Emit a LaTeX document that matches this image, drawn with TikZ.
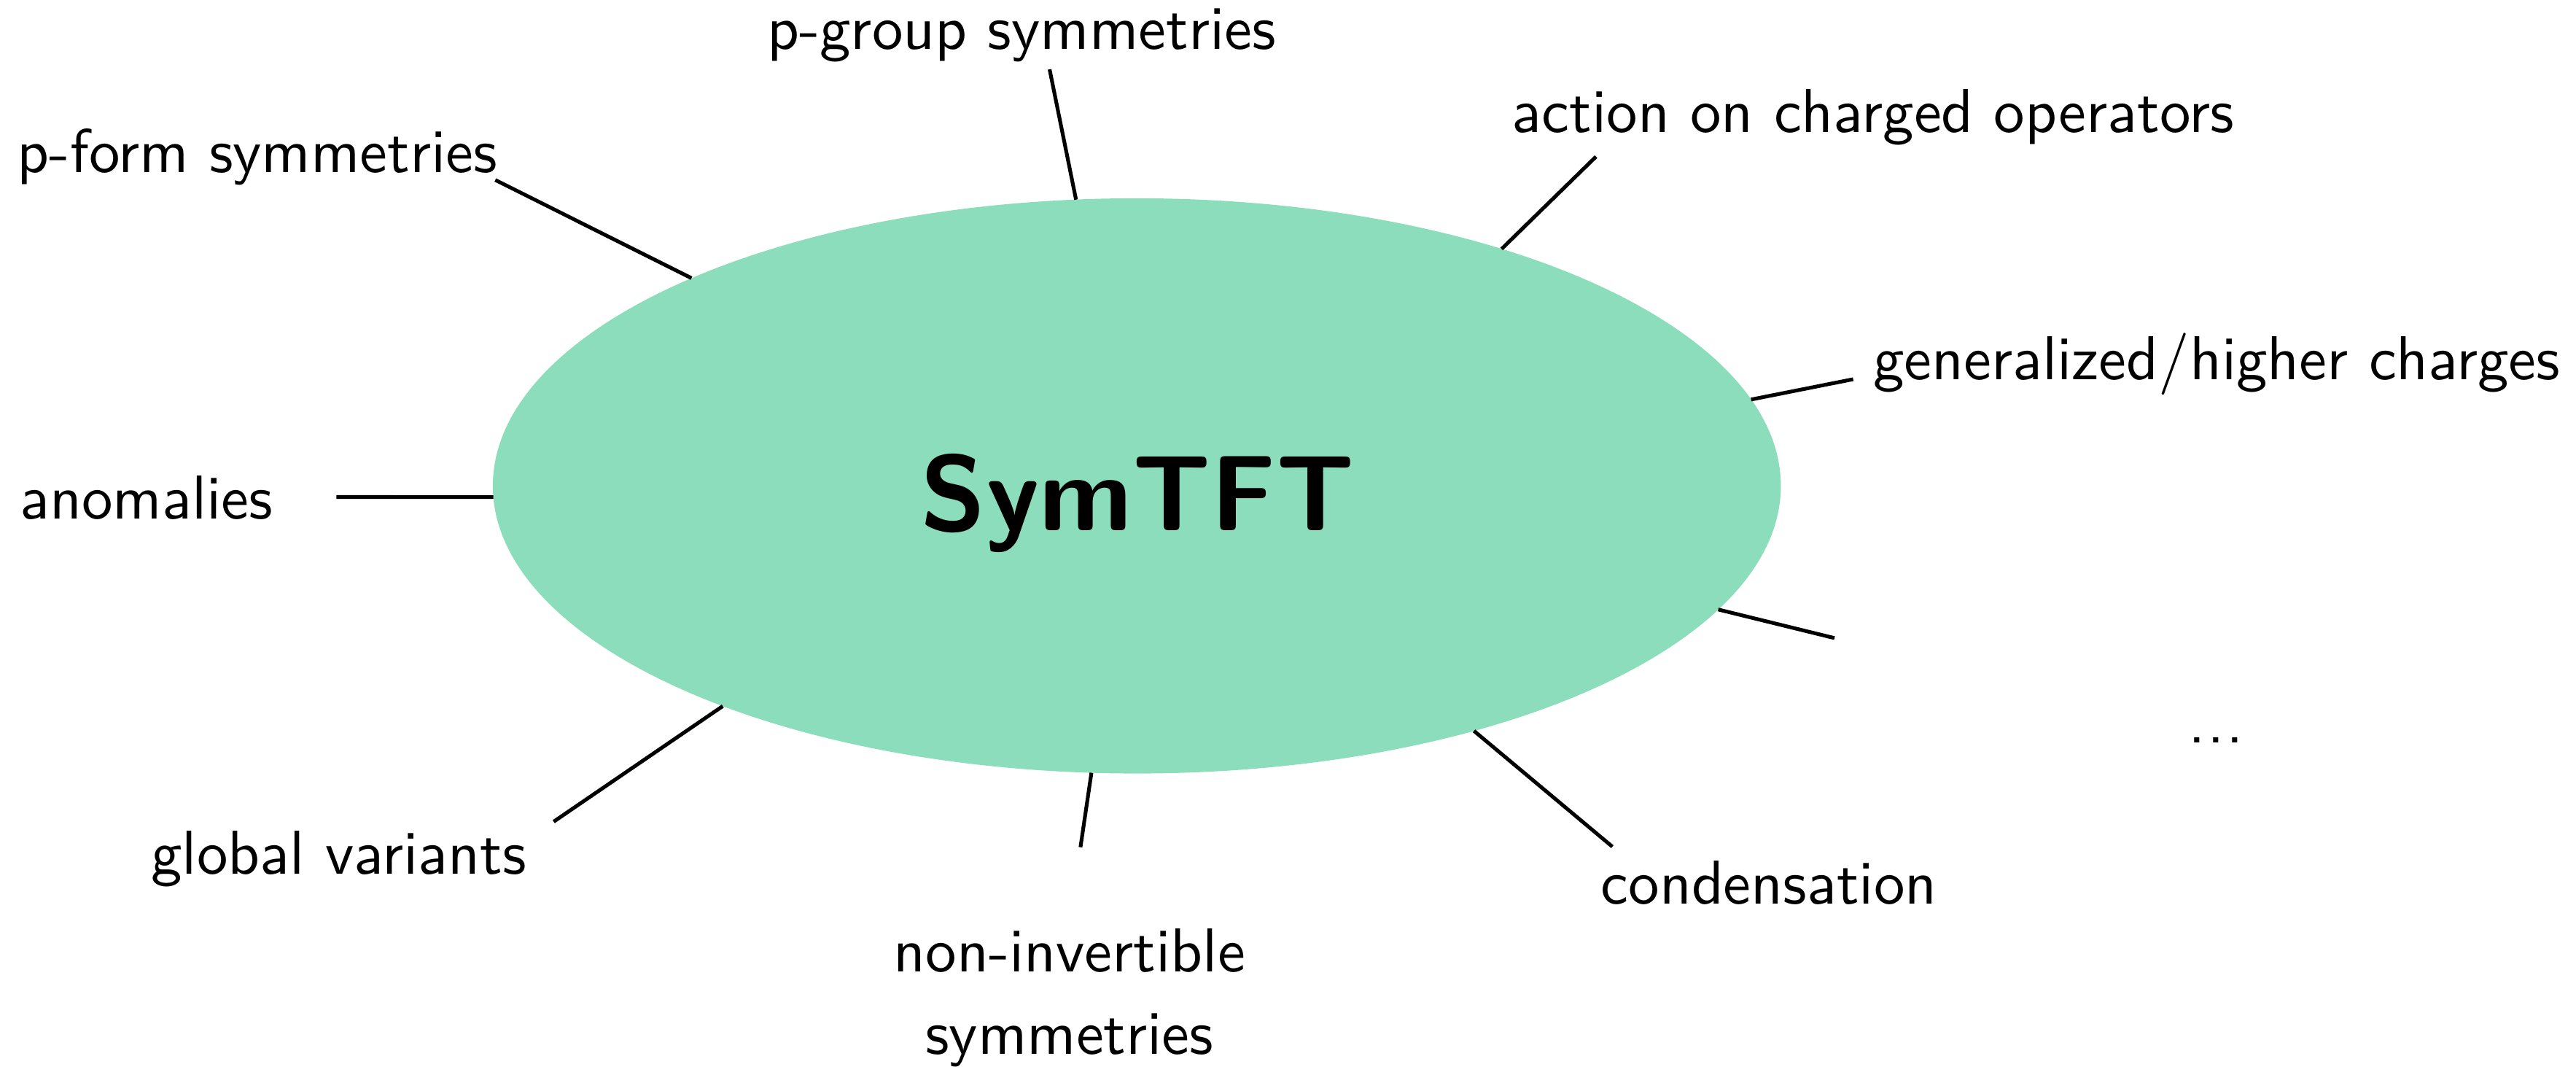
\documentclass[tikz,border=0pt]{standalone}
\usetikzlibrary{shapes.geometric}
\definecolor{mint}{RGB}{140,221,187}

\begin{document}
\begin{tikzpicture}[font=\sffamily,
    lbl/.style={anchor=base, inner sep=0pt},
    spoke/.style={semithick, black}]
      \useasboundingbox (-6.445,-3.384) rectangle (8.159,2.754);
      % ellipse centrale
      \node[ellipse, fill=mint, inner sep=0pt, outer sep=0pt,
            minimum width=7.302cm, minimum height=3.26cm] (sym) at (0,0) {};
      \node[lbl, font=\sffamily\bfseries\LARGE] (title) at (0.005,-0.254) {SymTFT};
      % thèmes autour
      \node[lbl] (pgroup) at (-0.654, 2.475)  {p-group symmetries};
      \node[lbl] (pform)  at (-4.986, 1.776)  {p-form symmetries};
      \node[lbl] (action) at (4.174, 2.003)   {action on charged operators};
      \node[lbl] (charges) at (6.122, 0.6045) {generalized/higher charges};
      \node[lbl] (anom)   at (-5.615,-0.189)  {anomalies};
      \node[lbl] (dots)   at (6.117,-1.456)   {.\kern0.28pt.\kern0.28pt.};
      \node[lbl] (glob)   at (-4.525,-2.201)  {global variants};
      \node[lbl] (cond)   at (3.584,-2.369)   {condensation};
      \node[anchor=center, inner sep=0pt, align=center] (noninv) at (-0.382,-2.903)
            {non-invertible\\[1.3pt]symmetries};
      % extrémités des rayons
      \coordinate (e-pgroup)  at (-0.4946, 2.361);
      \coordinate (e-pform)   at (-3.637, 1.734);
      \coordinate (e-action)  at (2.603, 1.866);
      \coordinate (e-charges) at (4.061, 0.6045);
      \coordinate (e-anom)    at (-4.538,-0.063);
      \coordinate (e-dots)    at (3.955,-0.8625);
      \coordinate (e-cond)    at (2.696,-2.045);
      \coordinate (e-noninv)  at (-0.3195,-2.048);
      \coordinate (e-glob)    at (-3.306,-1.903);
      % rayons
      \draw[spoke] (sym.102.2) -- (e-pgroup);
      \draw[spoke] (sym.155.9) -- (e-pform);
      \draw[spoke] (sym.33.37) -- (e-action);
      \draw[spoke] (sym.8.19)  -- (e-charges);
      \draw[spoke] (sym.181)   -- (e-anom);
      \draw[spoke] (sym.348.3) -- (e-dots);
      \draw[spoke] (sym.324.4) -- (e-cond);
      \draw[spoke] (sym.261.95) -- (e-noninv);
      \draw[spoke] (sym.208.2) -- (e-glob);
    \end{tikzpicture}
\end{document}
